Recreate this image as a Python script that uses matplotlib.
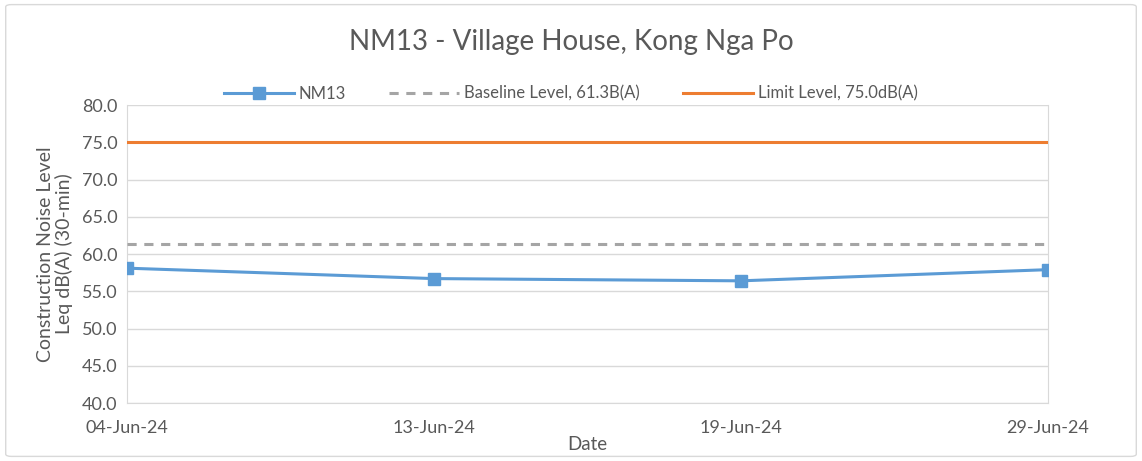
import matplotlib.pyplot as plt
from matplotlib.patches import FancyBboxPatch

dates = ["04-Jun-24", "13-Jun-24", "19-Jun-24", "29-Jun-24"]
nm13 = [58.1, 56.7, 56.4, 57.9]
baseline = 61.3
limit = 75.0


def main():
    plt.rcParams['font.family'] = ['Lato', 'DejaVu Sans']
    fig = plt.figure(figsize=(11.42, 4.61), dpi=100)
    ax = fig.add_axes([0.1112, 0.1258, 0.8065, 0.6464])

    x = list(range(len(dates)))
    ax.plot(x, [limit] * len(x), color="#ED7D31", lw=2.2,
            label="Limit Level, 75.0dB(A)", zorder=3)
    ax.plot(x, [baseline] * len(x), color="#A5A5A5", lw=2.2, ls=(0, (3, 2.5)),
            label="Baseline Level, 61.3B(A)", zorder=3)
    ax.plot(x, nm13, color="#5B9BD5", lw=2.2, marker="s", ms=8,
            label="NM13", zorder=4)

    ax.set_xlim(0, len(dates) - 1)
    ax.set_ylim(40, 80)
    ax.set_yticks(range(40, 81, 5))
    ax.set_yticklabels([f"{v:.1f}" for v in range(40, 81, 5)])
    ax.set_xticks(x)
    ax.set_xticklabels(dates)
    ax.grid(axis="y", color="#D9D9D9", lw=1)
    ax.set_axisbelow(True)
    ax.spines["top"].set_visible(False)
    for side in ["left", "right", "bottom"]:
        ax.spines[side].set_color("#D9D9D9")
    ax.tick_params(axis="y", length=0, labelsize=13, colors="#595959", pad=7)
    ax.tick_params(axis="x", length=0, labelsize=13, colors="#595959", pad=12)

    ax.set_xlabel("Date", fontsize=13.5, color="#595959", labelpad=0)
    ax.set_ylabel("Construction Noise Level\nLeq dB(A) (30-min)", fontsize=14,
                  color="#595959", labelpad=6, linespacing=1.05)
    fig.text(0.5, 0.908, "NM13 - Village House, Kong Nga Po", ha="center",
             va="center", fontsize=20, color="#595959")

    handles, labels = ax.get_legend_handles_labels()
    order = [2, 1, 0]
    ax.legend([handles[i] for i in order], [labels[i] for i in order],
              loc="center", bbox_to_anchor=(0.5, 0.797),
              bbox_transform=fig.transFigure, ncol=3, frameon=False,
              fontsize=12, labelcolor="#595959", handlelength=4.2,
              columnspacing=2.6, handletextpad=0.3)

    border = FancyBboxPatch((0.005, 0.01), 0.99, 0.98,
                            boxstyle="round,pad=0,rounding_size=0.005",
                            transform=fig.transFigure, fill=False,
                            edgecolor="#D9D9D9", lw=1)
    fig.patches.append(border)

    fig.savefig("out.png", dpi=100)


if __name__ == "__main__":
    main()
